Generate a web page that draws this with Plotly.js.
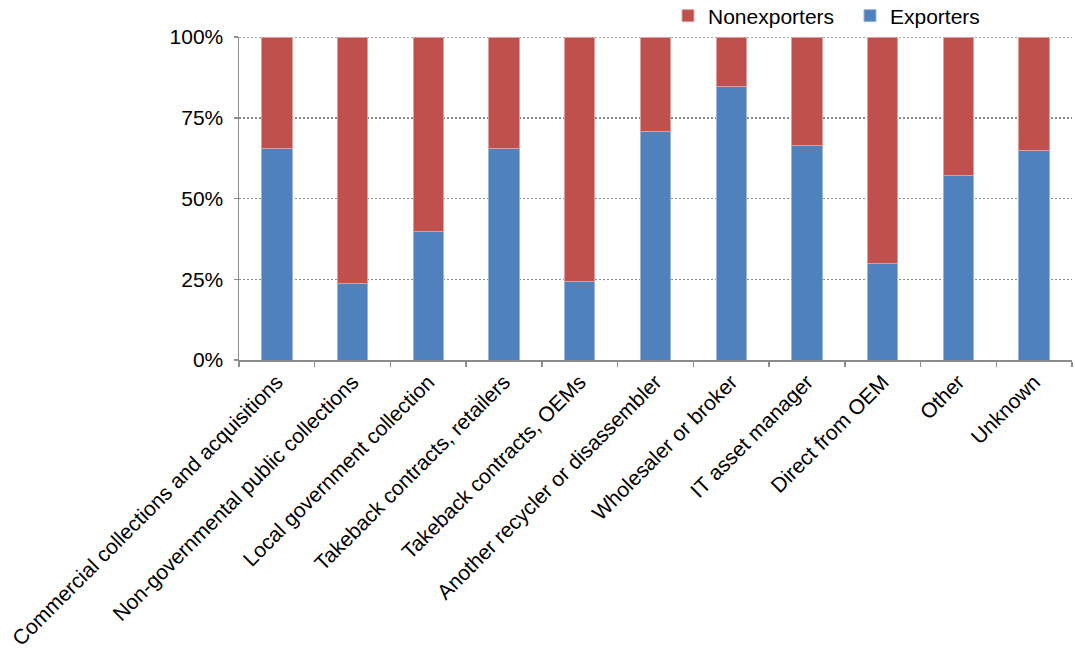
<!DOCTYPE html>
<html>
<head>
<meta charset="utf-8">
<script src="https://cdn.plot.ly/plotly-3.0.1.min.js"></script>
<style>html,body{margin:0;padding:0;background:#fff;}#chart{width:1075px;height:650px;}</style>
</head>
<body>
<div id="chart"></div>
<script>
const categories = [
  "Commercial collections and acquisitions",
  "Non-governmental public collections",
  "Local government collection",
  "Takeback contracts, retailers",
  "Takeback contracts, OEMs",
  "Another recycler or disassembler",
  "Wholesaler or broker",
  "IT asset manager",
  "Direct from OEM",
  "Other",
  "Unknown"
];
const exporters = [65.6, 23.7, 39.8, 65.6, 24.3, 70.6, 84.8, 66.3, 29.9, 57.1, 65.0];
const nonexporters = [34.4, 76.3, 60.2, 34.4, 75.7, 29.4, 15.2, 33.7, 70.1, 42.9, 35.0];
const yTickVals = [0, 25, 50, 75, 100];
const yTickText = ["0%", "25%", "50%", "75%", "100%"];

const font = {family: "Liberation Sans, Arial, sans-serif", size: 21, color: "#000"};
const gridStyle = {color: "#8c8c8c", width: 1.5, dash: "2px,2px"};

const traces = [
  {type: "bar", name: "Exporters", x: categories, y: exporters,
   marker: {color: "#4F81BD", line: {color: "#9DB5DA", width: 1}}},
  {type: "bar", name: "Nonexporters", x: categories, y: nonexporters,
   marker: {color: "#C0504D", line: {color: "#DDA09E", width: 1}}}
];

const layout = {
  width: 1075, height: 650,
  margin: {l: 239, r: 3, t: 37, b: 290, autoexpand: false},
  barmode: "stack",
  bargap: 0.6,
  paper_bgcolor: "#fff", plot_bgcolor: "#fff",
  font: font,
  showlegend: true,
  legend: {orientation: "h", xref: "container", yref: "container",
           x: 668 / 1075, xanchor: "left", y: 1 - 16 / 650, yanchor: "middle",
           traceorder: "reversed", font: font, entrywidth: 137, entrywidthmode: "pixels",
           bgcolor: "rgba(0,0,0,0)"},
  shapes: [{type: "line", layer: "below", xref: "paper", x0: 0, x1: 1,
            yref: "y", y0: yTickVals[yTickVals.length - 1], y1: yTickVals[yTickVals.length - 1],
            line: gridStyle}],
  xaxis: {type: "category", tickangle: -45, tickson: "boundaries", ticks: "outside",
          ticklen: 5, tickcolor: "#8c8c8c", tickwidth: 1.5,
          showline: true, linecolor: "#8c8c8c", linewidth: 1.5,
          showgrid: false, tickfont: font, automargin: false},
  yaxis: {range: [0, 100], tickvals: yTickVals, ticktext: yTickText,
          ticks: "outside", ticklen: 4, tickcolor: "#8c8c8c", tickwidth: 1.5,
          showline: true, linecolor: "#8c8c8c", linewidth: 1.5,
          showgrid: true, gridcolor: gridStyle.color, griddash: gridStyle.dash, gridwidth: gridStyle.width,
          zeroline: false, tickfont: font, ticklabelstandoff: 6, automargin: false}
};

Plotly.newPlot("chart", traces, layout, {displayModeBar: false, staticPlot: true});
</script>
</body>
</html>
